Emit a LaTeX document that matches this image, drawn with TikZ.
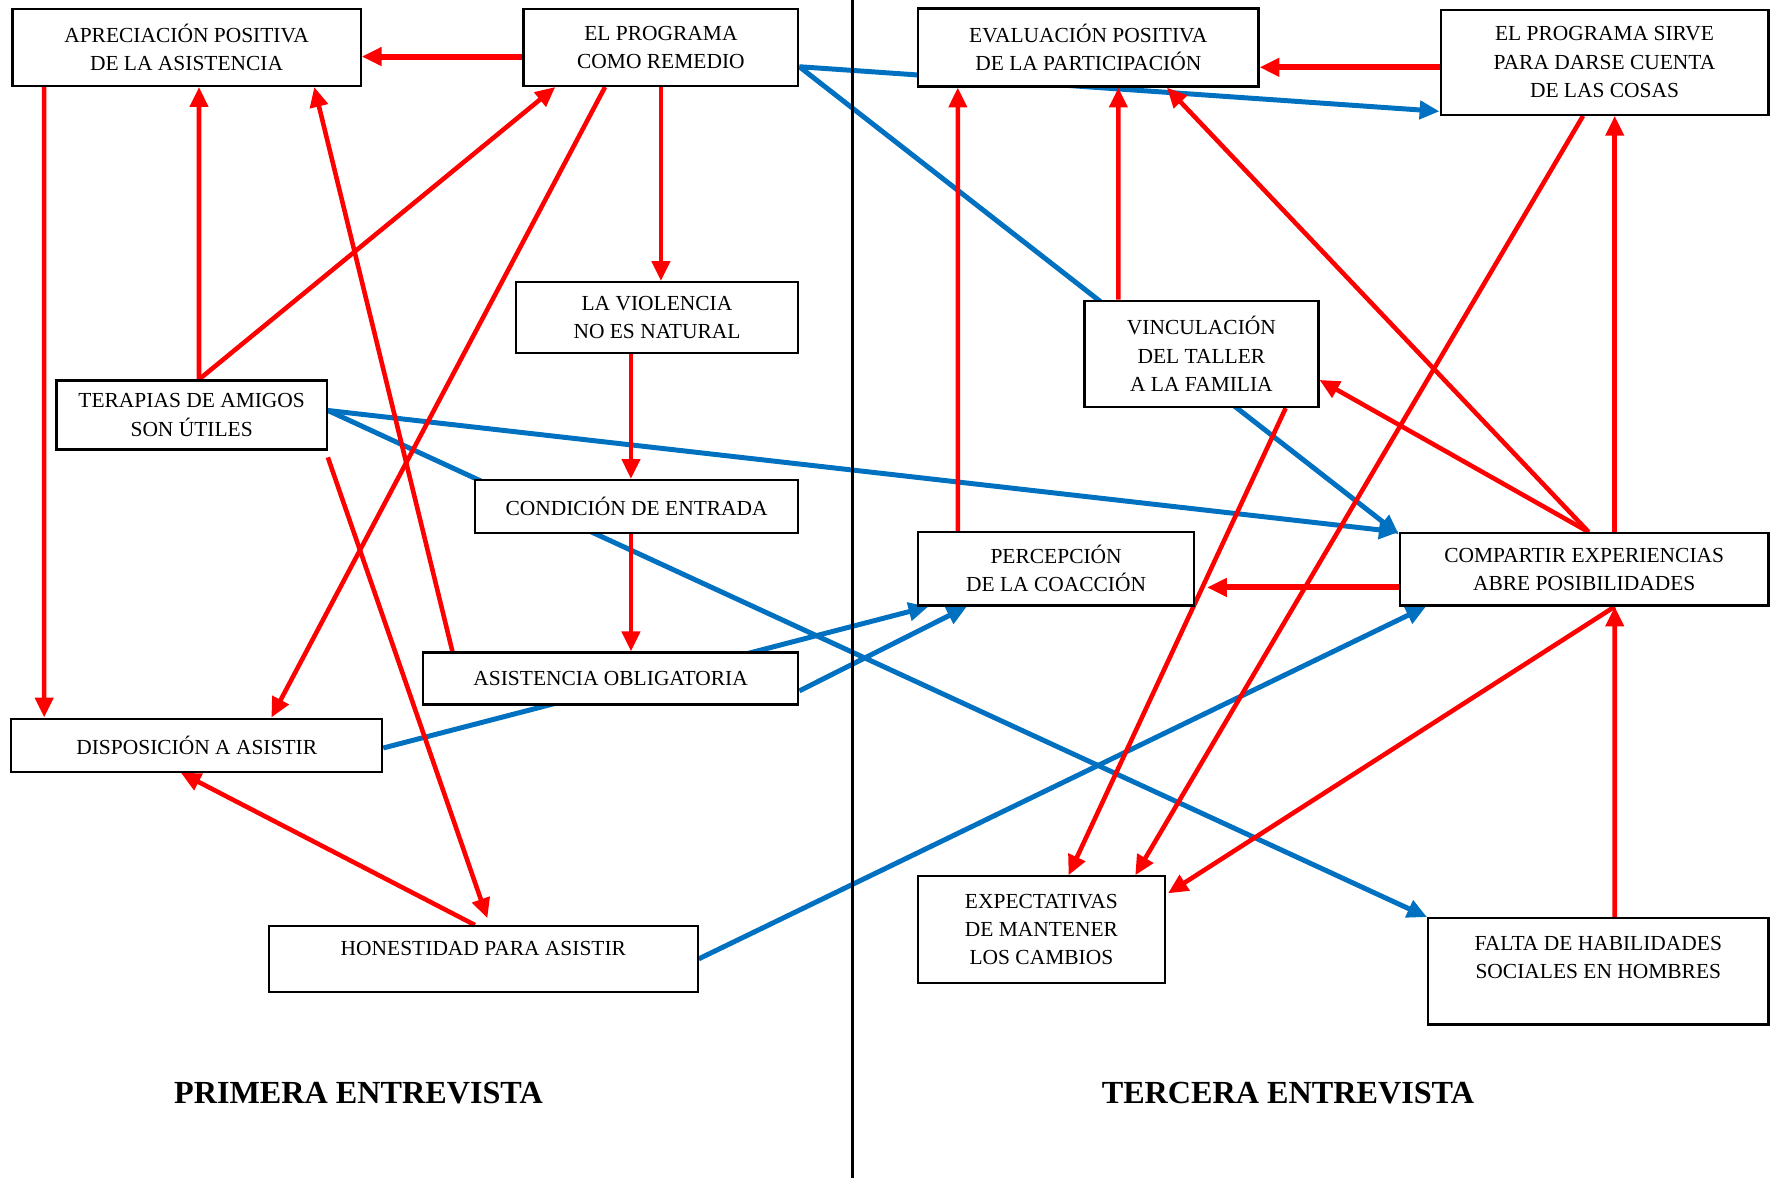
\documentclass[tikz,border=0pt]{standalone}
\usepackage{fontspec}
\setmainfont{Liberation Serif}
\usepackage{xcolor}
\usepackage{tikz}
\usetikzlibrary{arrows.meta,calc,backgrounds}
\definecolor{rojo}{rgb}{1,0,0}
\definecolor{azul}{RGB}{0,112,192}

\tikzset{
	caja/.style={draw,line width=1.1pt,fill=white,inner sep=0pt,align=center,font=\fontsize{10.8}{14.2}\selectfont},
	titulo/.style={font=\fontsize{16.2}{20}\selectfont\bfseries},
	roja/.style={draw=rojo,line width=2.3pt,-{Triangle[length=10pt,width=9pt]}},
	rojagruesa/.style={roja,line width=3pt},
	azulf/.style={draw=azul,line width=2.5pt,-{Triangle[length=10pt,width=9pt]}},
}

\begin{document}
\begin{tikzpicture}[x=0.02cm,y=-0.02cm]
			\useasboundingbox (0,0) rectangle (1568,1042);
			
			% primera entrevista
			\node (apre) at (165,42) [caja,minimum width=6.16cm,minimum height=1.36cm] {APRECIACIÓN POSITIVA\\DE LA ASISTENCIA};
			\node (remedio) at (584.5,42) [caja,minimum width=4.86cm,minimum height=1.36cm] {EL PROGRAMA\\COMO REMEDIO};
			\node (violencia) at (581,281) [caja,minimum width=5.00cm,minimum height=1.26cm] {LA VIOLENCIA\\NO ES NATURAL};
			\node (terapias) at (169.5,367) [caja,minimum width=4.78cm,minimum height=1.22cm] {TERAPIAS DE AMIGOS\\SON ÚTILES};
			\node (condicion) at (563,448) [caja,minimum width=5.72cm,minimum height=0.94cm] {CONDICIÓN DE ENTRADA};
			\node (obligatoria) at (540,600) [caja,minimum width=6.64cm,minimum height=0.92cm] {ASISTENCIA OBLIGATORIA};
			\node (disposicion) at (174,659) [caja,minimum width=6.56cm,minimum height=0.94cm] {DISPOSICIÓN A ASISTIR};
			\node (honestidad) at (427.5,848) [caja,minimum width=7.58cm,minimum height=1.16cm] {HONESTIDAD PARA ASISTIR\\[-4pt]~};
			
			% tercera entrevista
			\node (evaluacion) at (962.5,42) [caja,minimum width=6.02cm,minimum height=1.38cm] {EVALUACIÓN POSITIVA\\DE LA PARTICIPACIÓN};
			\node (sirve) at (1419,55) [caja,minimum width=5.80cm,minimum height=1.86cm] {EL PROGRAMA SIRVE\\PARA DARSE CUENTA\\DE LAS COSAS};
			\node (vinculacion) at (1062.5,313) [caja,minimum width=4.14cm,minimum height=1.88cm] {VINCULACIÓN\\DEL TALLER\\A LA FAMILIA};
			\node (percepcion) at (934,503) [caja,minimum width=4.88cm,minimum height=1.30cm] {PERCEPCIÓN\\DE LA COACCIÓN};
			\node (compartir) at (1401,503.5) [caja,minimum width=6.52cm,minimum height=1.28cm] {COMPARTIR EXPERIENCIAS\\ABRE POSIBILIDADES};
			\node (expectativas) at (921,822) [caja,minimum width=4.36cm,minimum height=1.88cm] {EXPECTATIVAS\\DE MANTENER\\LOS CAMBIOS};
			\node (falta) at (1413.5,859) [caja,minimum width=6.02cm,minimum height=1.88cm] {FALTA DE HABILIDADES\\SOCIALES EN HOMBRES\\~};
			
			\node (prim) at (317,967) [titulo] {PRIMERA ENTREVISTA};
			\node (terc) at (1139,967) [titulo] {TERCERA ENTREVISTA};
			
			\coordinate (arriba) at (754,0);
			\coordinate (abajo) at (754,1042);
			\draw[line width=1.1pt] (arriba) -- (abajo);
			
			\begin{scope}[on background layer]
			% azules
			\draw[azulf] ($(terapias.east)+(0,-4)$) -- (compartir.north west);
			\draw[azulf] ($(terapias.east)+(0,-4)$) -- (falta.north west);
			\draw[azulf] ($(disposicion.east)+(0,2.5)$) -- ($(percepcion.south west)+(10,0)$);
			\draw[azulf] ($(obligatoria.east)+(0,11)$) -- ($(percepcion.south west)+(44,0)$);
			\draw[azulf] (honestidad.east) -- ($(compartir.south west)+(24,0)$);
			\draw[azulf] ($(remedio.east)+(0,17)$) -- ($(compartir.north west)+(0,2)$);
			\draw[azulf] ($(remedio.east)+(0,17)$) -- ($(sirve.south west)+(0,-4)$);
			
			% rojas, primera
			\draw[rojagruesa] ($(remedio.west)+(0,8)$) -- ($(apre.east)+(0,8)$);
			\draw[roja] ($(apre.south west)+(29,0)$) -- ($(disposicion.north west)+(30,0)$);
			\draw[roja] ($(terapias.north)+(6.5,0)$) -- ($(apre.south)+(11,0)$);
			\draw[roja] ($(terapias.north)+(6.5,0)$) -- ($(remedio.south west)+(29,0)$);
			\draw[roja] ($(obligatoria.north west)+(27,0)$) -- ($(apre.south east)+(-42,0)$);
			\draw[roja] ($(remedio.south west)+(73,0)$) -- ($(disposicion.north)+(66,0)$);
			\draw[roja] (remedio.south) -- ($(violencia.north)+(3.5,0)$);
			\draw[roja] ($(violencia.south)+(-23,0)$) -- ($(condicion.north)+(-5,0)$);
			\draw[roja] ($(condicion.south)+(-5,0)$) -- ($(obligatoria.north)+(18,0)$);
			\draw[roja] ($(terapias.south east)+(0,6)$) -- ($(honestidad.north)+(3.5,-6)$);
			\draw[roja] ($(honestidad.north)+(-7.5,0)$) -- ($(disposicion.south)+(-14,0)$);
			
			% rojas, tercera
			\draw[rojagruesa] ($(sirve.west)+(0,4.5)$) -- ($(evaluacion.east)+(0,17.5)$);
			\draw[roja] ($(percepcion.north west)+(36,0)$) -- ($(evaluacion.south west)+(36,0)$);
			\draw[roja] ($(vinculacion.north west)+(31,0)$) -- ($(evaluacion.south west)+(178,0)$);
			\draw[roja] ($(compartir.north)+(4,0)$) -- ($(evaluacion.south)+(69.5,0)$);
			\draw[roja] ($(compartir.north)+(4,0)$) -- ($(vinculacion.east)+(0,23)$);
			\draw[roja] ($(compartir.north)+(27,0)$) -- ($(sirve.south)+(9,0)$);
			\draw[roja] ($(sirve.south)+(-19,0)$) -- ($(expectativas.north)+(83,0)$);
			\draw[roja] ($(vinculacion.south)+(74.5,0)$) -- ($(expectativas.north)+(24,0)$);
			\draw[rojagruesa,shorten >=6pt] ($(compartir.west)+(0,16)$) -- ($(percepcion.east)+(0,16.5)$);
			\draw[roja] ($(compartir.south)+(27,0)$) -- ($(expectativas.north east)+(2,16)$);
			\draw[roja] ($(falta.north)+(14.5,0)$) -- ($(compartir.south)+(27,0)$);
			\end{scope}
\end{tikzpicture}
\end{document}
